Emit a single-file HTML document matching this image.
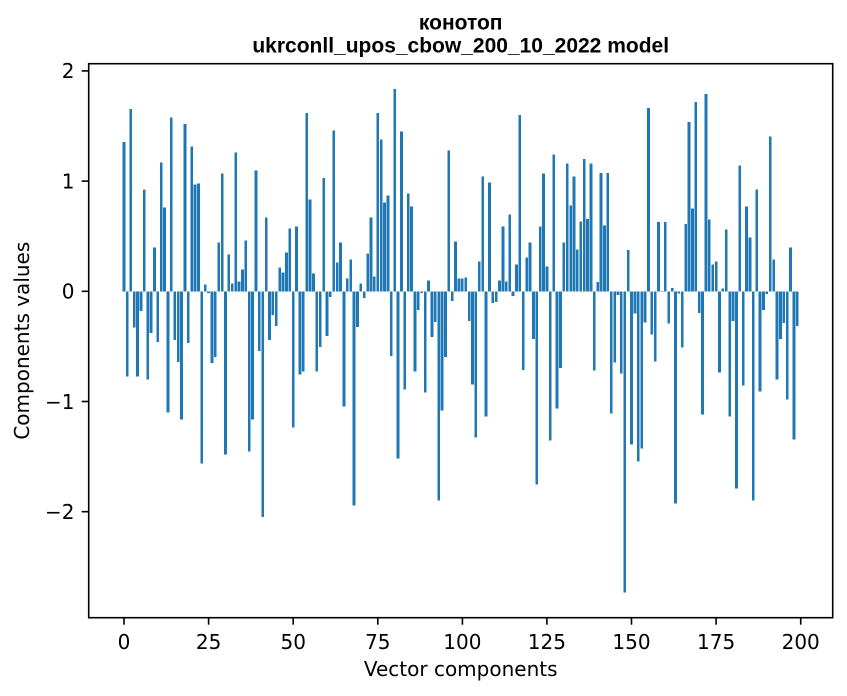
<!DOCTYPE html>
<html>
<head>
<meta charset="utf-8">
<style>
html,body{margin:0;padding:0;background:#fff;}
svg{display:block;}
.t{font-family:"DejaVu Sans","Liberation Sans",sans-serif;font-size:20px;fill:#000;}
.ti{font-family:"Liberation Sans","DejaVu Sans",sans-serif;font-size:21px;font-weight:bold;fill:#000;}
</style>
</head>
<body>
<svg width="847" height="696" viewBox="0 0 847 696" xmlns="http://www.w3.org/2000/svg">
<rect x="0" y="0" width="847" height="696" fill="#fff"/>
<g transform="translate(124,291.3) scale(3.3835,-110.2)" fill="#1f77b4">
<path shape-rendering="crispEdges" d="M-0.4 0h.8v1.357h-.8zM0.6 0h.8v-0.775h-.8zM1.6 0h.8v1.656h-.8zM2.6 0h.8v-0.33h-.8zM3.6 0h.8v-0.775h-.8zM4.6 0h.8v-0.178h-.8zM5.6 0h.8v0.923h-.8zM6.6 0h.8v-0.8h-.8zM7.6 0h.8v-0.377h-.8zM8.6 0h.8v0.398h-.8zM9.6 0h.8v-0.459h-.8zM10.6 0h.8v1.167h-.8zM11.6 0h.8v0.76h-.8zM12.6 0h.8v-1.1h-.8zM13.6 0h.8v1.575h-.8zM14.6 0h.8v-0.44h-.8zM15.6 0h.8v-0.64h-.8zM16.6 0h.8v-1.164h-.8zM17.6 0h.8v1.52h-.8zM18.6 0h.8v-0.468h-.8zM19.6 0h.8v1.312h-.8zM20.6 0h.8v0.968h-.8zM21.6 0h.8v0.977h-.8zM22.6 0h.8v-1.563h-.8zM23.6 0h.8v0.063h-.8zM24.6 0h.8v-0.015h-.8zM25.6 0h.8v-0.649h-.8zM26.6 0h.8v-0.594h-.8zM27.6 0h.8v0.443h-.8zM28.6 0h.8v1.068h-.8zM29.6 0h.8v-1.48h-.8zM30.6 0h.8v0.335h-.8zM31.6 0h.8v0.072h-.8zM32.6 0h.8v1.258h-.8zM33.6 0h.8v0.09h-.8zM34.6 0h.8v0.2h-.8zM35.6 0h.8v0.46h-.8zM36.6 0h.8v-1.454h-.8zM37.6 0h.8v-1.164h-.8zM38.6 0h.8v1.095h-.8zM39.6 0h.8v-0.54h-.8zM40.6 0h.8v-2.05h-.8zM41.6 0h.8v0.67h-.8zM42.6 0h.8v-0.44h-.8zM43.6 0h.8v-0.214h-.8zM44.6 0h.8v-0.314h-.8zM45.6 0h.8v0.217h-.8zM46.6 0h.8v0.172h-.8zM47.6 0h.8v0.353h-.8zM48.6 0h.8v0.57h-.8zM49.6 0h.8v-1.237h-.8zM50.6 0h.8v0.588h-.8zM51.6 0h.8v-0.757h-.8zM52.6 0h.8v-0.73h-.8zM53.6 0h.8v1.62h-.8zM54.6 0h.8v0.833h-.8zM55.6 0h.8v0.163h-.8zM56.6 0h.8v-0.73h-.8zM57.6 0h.8v-0.504h-.8zM58.6 0h.8v1.03h-.8zM59.6 0h.8v-0.404h-.8zM60.6 0h.8v-0.051h-.8zM61.6 0h.8v1.457h-.8zM62.6 0h.8v0.262h-.8zM63.6 0h.8v0.443h-.8zM64.6 0h.8v-1.047h-.8zM65.6 0h.8v0.118h-.8zM66.6 0h.8v0.29h-.8zM67.6 0h.8v-1.943h-.8zM68.6 0h.8v-0.323h-.8zM69.6 0h.8v0.072h-.8zM70.6 0h.8v-0.06h-.8zM71.6 0h.8v0.344h-.8zM72.6 0h.8v0.67h-.8zM73.6 0h.8v0.136h-.8zM74.6 0h.8v1.62h-.8zM75.6 0h.8v1.376h-.8zM76.6 0h.8v0.805h-.8zM77.6 0h.8v0.869h-.8zM78.6 0h.8v-0.585h-.8zM79.6 0h.8v1.837h-.8zM80.6 0h.8v-1.517h-.8zM81.6 0h.8v1.448h-.8zM82.6 0h.8v-0.893h-.8zM83.6 0h.8v0.887h-.8zM84.6 0h.8v0.769h-.8zM85.6 0h.8v-0.73h-.8zM86.6 0h.8v-0.169h-.8zM87.6 0h.8v-0.015h-.8zM88.6 0h.8v-0.92h-.8zM89.6 0h.8v0.1h-.8zM90.6 0h.8v-0.413h-.8zM91.6 0h.8v-0.278h-.8zM92.6 0h.8v-1.897h-.8zM93.6 0h.8v-1.083h-.8zM94.6 0h.8v-0.594h-.8zM95.6 0h.8v1.276h-.8zM96.6 0h.8v-0.087h-.8zM97.6 0h.8v0.452h-.8zM98.6 0h.8v0.118h-.8zM99.6 0h.8v0.118h-.8zM100.6 0h.8v0.127h-.8zM101.6 0h.8v-0.268h-.8zM102.6 0h.8v-0.848h-.8zM103.6 0h.8v-1.327h-.8zM104.6 0h.8v0.27h-.8zM105.6 0h.8v1.04h-.8zM106.6 0h.8v-1.137h-.8zM107.6 0h.8v0.986h-.8zM108.6 0h.8v-0.106h-.8zM109.6 0h.8v-0.097h-.8zM110.6 0h.8v0.1h-.8zM111.6 0h.8v0.588h-.8zM112.6 0h.8v0.09h-.8zM113.6 0h.8v0.697h-.8zM114.6 0h.8v-0.042h-.8zM115.6 0h.8v0.244h-.8zM116.6 0h.8v1.602h-.8zM117.6 0h.8v-0.712h-.8zM118.6 0h.8v0.308h-.8zM119.6 0h.8v0.443h-.8zM120.6 0h.8v-0.431h-.8zM121.6 0h.8v-1.752h-.8zM122.6 0h.8v0.588h-.8zM123.6 0h.8v1.068h-.8zM124.6 0h.8v0.226h-.8zM125.6 0h.8v-1.354h-.8zM126.6 0h.8v1.24h-.8zM127.6 0h.8v-1.065h-.8zM128.6 0h.8v-0.694h-.8zM129.6 0h.8v0.443h-.8zM130.6 0h.8v1.158h-.8zM131.6 0h.8v0.778h-.8zM132.6 0h.8v1.04h-.8zM133.6 0h.8v0.38h-.8zM134.6 0h.8v0.633h-.8zM135.6 0h.8v1.202h-.8zM136.6 0h.8v0.658h-.8zM137.6 0h.8v1.158h-.8zM138.6 0h.8v-0.719h-.8zM139.6 0h.8v0.086h-.8zM140.6 0h.8v1.075h-.8zM141.6 0h.8v0.595h-.8zM142.6 0h.8v1.075h-.8zM143.6 0h.8v-1.107h-.8zM144.6 0h.8v-0.646h-.8zM145.6 0h.8v-0.032h-.8zM146.6 0h.8v-0.744h-.8zM147.6 0h.8v-2.732h-.8zM148.6 0h.8v0.375h-.8zM149.6 0h.8v-1.39h-.8zM150.6 0h.8v-0.2h-.8zM151.6 0h.8v-1.546h-.8zM152.6 0h.8v-1.425h-.8zM153.6 0h.8v-0.283h-.8zM154.6 0h.8v1.663h-.8zM155.6 0h.8v-0.391h-.8zM156.6 0h.8v-0.636h-.8zM157.6 0h.8v0.63h-.8zM158.6 0h.8v-0.005h-.8zM159.6 0h.8v0.63h-.8zM160.6 0h.8v-0.293h-.8zM161.6 0h.8v0.032h-.8zM162.6 0h.8v-1.924h-.8zM163.6 0h.8v-0.02h-.8zM164.6 0h.8v-0.509h-.8zM165.6 0h.8v0.61h-.8zM166.6 0h.8v1.536h-.8zM167.6 0h.8v0.75h-.8zM168.6 0h.8v1.72h-.8zM169.6 0h.8v-0.196h-.8zM170.6 0h.8v-1.12h-.8zM171.6 0h.8v1.79h-.8zM172.6 0h.8v0.652h-.8zM173.6 0h.8v0.244h-.8zM174.6 0h.8v0.27h-.8zM175.6 0h.8v-0.739h-.8zM176.6 0h.8v0.027h-.8zM177.6 0h.8v0.561h-.8zM178.6 0h.8v-1.137h-.8zM179.6 0h.8v-0.268h-.8zM180.6 0h.8v-1.789h-.8zM181.6 0h.8v1.14h-.8zM182.6 0h.8v-0.857h-.8zM183.6 0h.8v0.769h-.8zM184.6 0h.8v0.489h-.8zM185.6 0h.8v-1.897h-.8zM186.6 0h.8v0.923h-.8zM187.6 0h.8v-0.911h-.8zM188.6 0h.8v-0.169h-.8zM189.6 0h.8v-0.024h-.8zM190.6 0h.8v1.403h-.8zM191.6 0h.8v0.29h-.8zM192.6 0h.8v-0.802h-.8zM193.6 0h.8v-0.431h-.8zM194.6 0h.8v-0.287h-.8zM195.6 0h.8v-0.983h-.8zM196.6 0h.8v0.398h-.8zM197.6 0h.8v-1.345h-.8zM198.6 0h.8v-0.314h-.8z"/>
</g>
<rect x="88.7" y="63.7" width="744" height="554" fill="none" stroke="#000" stroke-width="1.6"/>
<g stroke="#000" stroke-width="1.6">
<line x1="81.7" y1="70.9" x2="88.7" y2="70.9"/>
<line x1="81.7" y1="181.1" x2="88.7" y2="181.1"/>
<line x1="81.7" y1="291.3" x2="88.7" y2="291.3"/>
<line x1="81.7" y1="401.5" x2="88.7" y2="401.5"/>
<line x1="81.7" y1="511.7" x2="88.7" y2="511.7"/>
<line x1="124" y1="617.7" x2="124" y2="624.7"/>
<line x1="208.6" y1="617.7" x2="208.6" y2="624.7"/>
<line x1="293.2" y1="617.7" x2="293.2" y2="624.7"/>
<line x1="377.8" y1="617.7" x2="377.8" y2="624.7"/>
<line x1="462.4" y1="617.7" x2="462.4" y2="624.7"/>
<line x1="546.9" y1="617.7" x2="546.9" y2="624.7"/>
<line x1="631.5" y1="617.7" x2="631.5" y2="624.7"/>
<line x1="716.1" y1="617.7" x2="716.1" y2="624.7"/>
<line x1="800.7" y1="617.7" x2="800.7" y2="624.7"/>
</g>
<g class="t" text-anchor="end">
<text x="74.5" y="78.2">2</text>
<text x="74.5" y="188.4">1</text>
<text x="74.5" y="298.6">0</text>
<text x="74.5" y="408.8">−1</text>
<text x="74.5" y="519">−2</text>
</g>
<g class="t" text-anchor="middle">
<text x="124" y="649">0</text>
<text x="208.6" y="649">25</text>
<text x="293.2" y="649">50</text>
<text x="377.8" y="649">75</text>
<text x="462.4" y="649">100</text>
<text x="546.9" y="649">125</text>
<text x="631.5" y="649">150</text>
<text x="716.1" y="649">175</text>
<text x="800.7" y="649">200</text>
<text x="460.7" y="676">Vector components</text>
<text transform="translate(29,340.7) rotate(-90)" x="0" y="0">Components values</text>
</g>
<g class="ti" text-anchor="middle">
<text x="460.7" y="29.5">конотоп</text>
<text x="460.7" y="52.3">ukrconll_upos_cbow_200_10_2022 model</text>
</g>
</svg>
</body>
</html>
